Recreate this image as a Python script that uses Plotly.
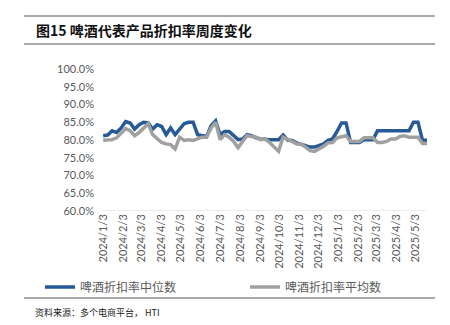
import plotly.graph_objects as go
import pandas as pd

# Weekly data, starting 2024-01-03
start_date = "2024-01-03"
n_weeks = 73
dates = pd.date_range(start_date, periods=n_weeks, freq="7D")

median_vals = [81.2, 81.4, 82.6, 82.1, 83.4, 85.2, 84.8, 83.1, 84.3, 85.0,
               84.8, 83.1, 84.3, 83.8, 81.5, 83.4, 81.5, 83.2, 84.6, 85.0,
               85.0, 81.5, 81.2, 81.0, 84.0, 85.4, 81.5, 82.4, 82.4, 81.2,
               80.1, 80.3, 81.5, 81.2, 80.6, 80.3, 80.1, 80.1, 80.1, 80.1,
               81.4, 80.0, 79.9, 79.2, 78.8, 78.3, 78.0, 78.0, 78.4, 78.9,
               79.9, 80.3, 82.4, 84.8, 84.8, 79.3, 79.3, 79.3, 80.1, 80.1,
               80.1, 82.6, 82.6, 82.6, 82.6, 82.6, 82.6, 82.6, 82.6, 85.0,
               85.0, 79.9, 79.9]

mean_vals = [79.9, 80.1, 80.1, 80.6, 82.0, 83.2, 82.6, 81.2, 82.1, 83.4,
             84.6, 81.5, 80.3, 79.3, 78.9, 78.7, 77.5, 80.8, 79.9, 80.1,
             79.9, 80.3, 80.8, 80.8, 83.4, 85.0, 80.1, 81.5, 80.8, 79.6,
             77.8, 79.6, 81.2, 81.0, 80.8, 80.1, 80.3, 79.3, 78.0, 76.8,
             80.8, 80.3, 79.6, 78.9, 78.9, 78.0, 77.0, 76.8, 77.5, 78.2,
             79.2, 79.3, 80.6, 81.0, 81.2, 79.6, 79.6, 79.6, 80.6, 80.6,
             80.6, 79.3, 79.3, 79.6, 80.3, 80.3, 81.0, 81.2, 80.8, 80.8,
             80.8, 79.0, 79.0]

tick_dates = pd.date_range("2024-01-01", "2025-05-01", freq="MS") + pd.Timedelta(days=2)
tick_labels = [f"{d.year}/{d.month}/{d.day}" for d in tick_dates]
y_ticks = [60, 65, 70, 75, 80, 85, 90, 95, 100]

series_names = ["啤酒折扣率中位数", "啤酒折扣率平均数"]
title_text = "图15 啤酒代表产品折扣率周度变化"
source_text = "资料来源：多个电商平台， HTI"

blue = "#255A96"
gray = "#A0A0A0"
cjk = "Noto Sans CJK SC"
latin = "Lato"

fig = go.Figure()
fig.add_trace(go.Scatter(x=dates, y=median_vals, mode="lines", name=series_names[0],
                         line=dict(color=blue, width=3.5)))
fig.add_trace(go.Scatter(x=dates, y=mean_vals, mode="lines", name=series_names[1],
                         line=dict(color=gray, width=3.5)))

W, H = 450, 325
L, R, T, B = 103, 23, 69, 114
pw, ph = W - L - R, H - T - B

def px(x):
    return (x - L) / pw

def py(y):
    return (H - B - y) / ph

x_start = dates[0] - pd.Timedelta(hours=6)

fig.update_layout(
    width=W, height=H,
    margin=dict(l=L, r=R, t=T, b=B),
    paper_bgcolor="white", plot_bgcolor="white",
    showlegend=True,
    legend=dict(orientation="h", x=px(80), xanchor="left", y=py(287), yanchor="middle",
                font=dict(family=cjk, size=12, color="#595959"),
                itemwidth=30, entrywidth=160, tracegroupgap=0, bgcolor="rgba(0,0,0,0)"),
    xaxis=dict(type="date", range=[x_start, dates[-1]], tickmode="array",
               tickvals=tick_dates, ticktext=tick_labels, tickangle=-90,
               tickfont=dict(family=latin, size=11, color="#595959"),
               showgrid=False, zeroline=False, showline=False, ticks=""),
    yaxis=dict(range=[60, 100], tickmode="array", tickvals=y_ticks,
               ticktext=[f"{v:.1f}%" for v in y_ticks],
               tickfont=dict(family=latin, size=11, color="#595959"),
               showgrid=False, zeroline=False, showline=False, ticks="", ticklabelstandoff=8),
    shapes=[
        dict(type="line", xref="paper", yref="y", x0=0, x1=1, y0=60, y1=60,
             line=dict(color="#D9D9D9", width=1), layer="below"),
        dict(type="line", xref="paper", yref="paper", x0=px(24), x1=px(435), y0=py(16), y1=py(16),
             line=dict(color="#555555", width=1)),
        dict(type="line", xref="paper", yref="paper", x0=px(24), x1=px(435), y0=py(44), y1=py(44),
             line=dict(color="#555555", width=1)),
        dict(type="line", xref="paper", yref="paper", x0=px(24), x1=px(435), y0=py(298), y1=py(298),
             line=dict(color="#555555", width=1)),
    ],
    annotations=[
        dict(text=f"<b>{title_text}</b>", xref="paper", yref="paper", x=px(34), y=py(30),
             xanchor="left", yanchor="middle", showarrow=False,
             font=dict(family=cjk, size=14, color="#111111")),
        dict(text=source_text, xref="paper", yref="paper", x=px(33), y=py(312),
             xanchor="left", yanchor="middle", showarrow=False,
             font=dict(family=cjk, size=9, color="#222222")),
    ],
)

fig.write_html("out.html")
